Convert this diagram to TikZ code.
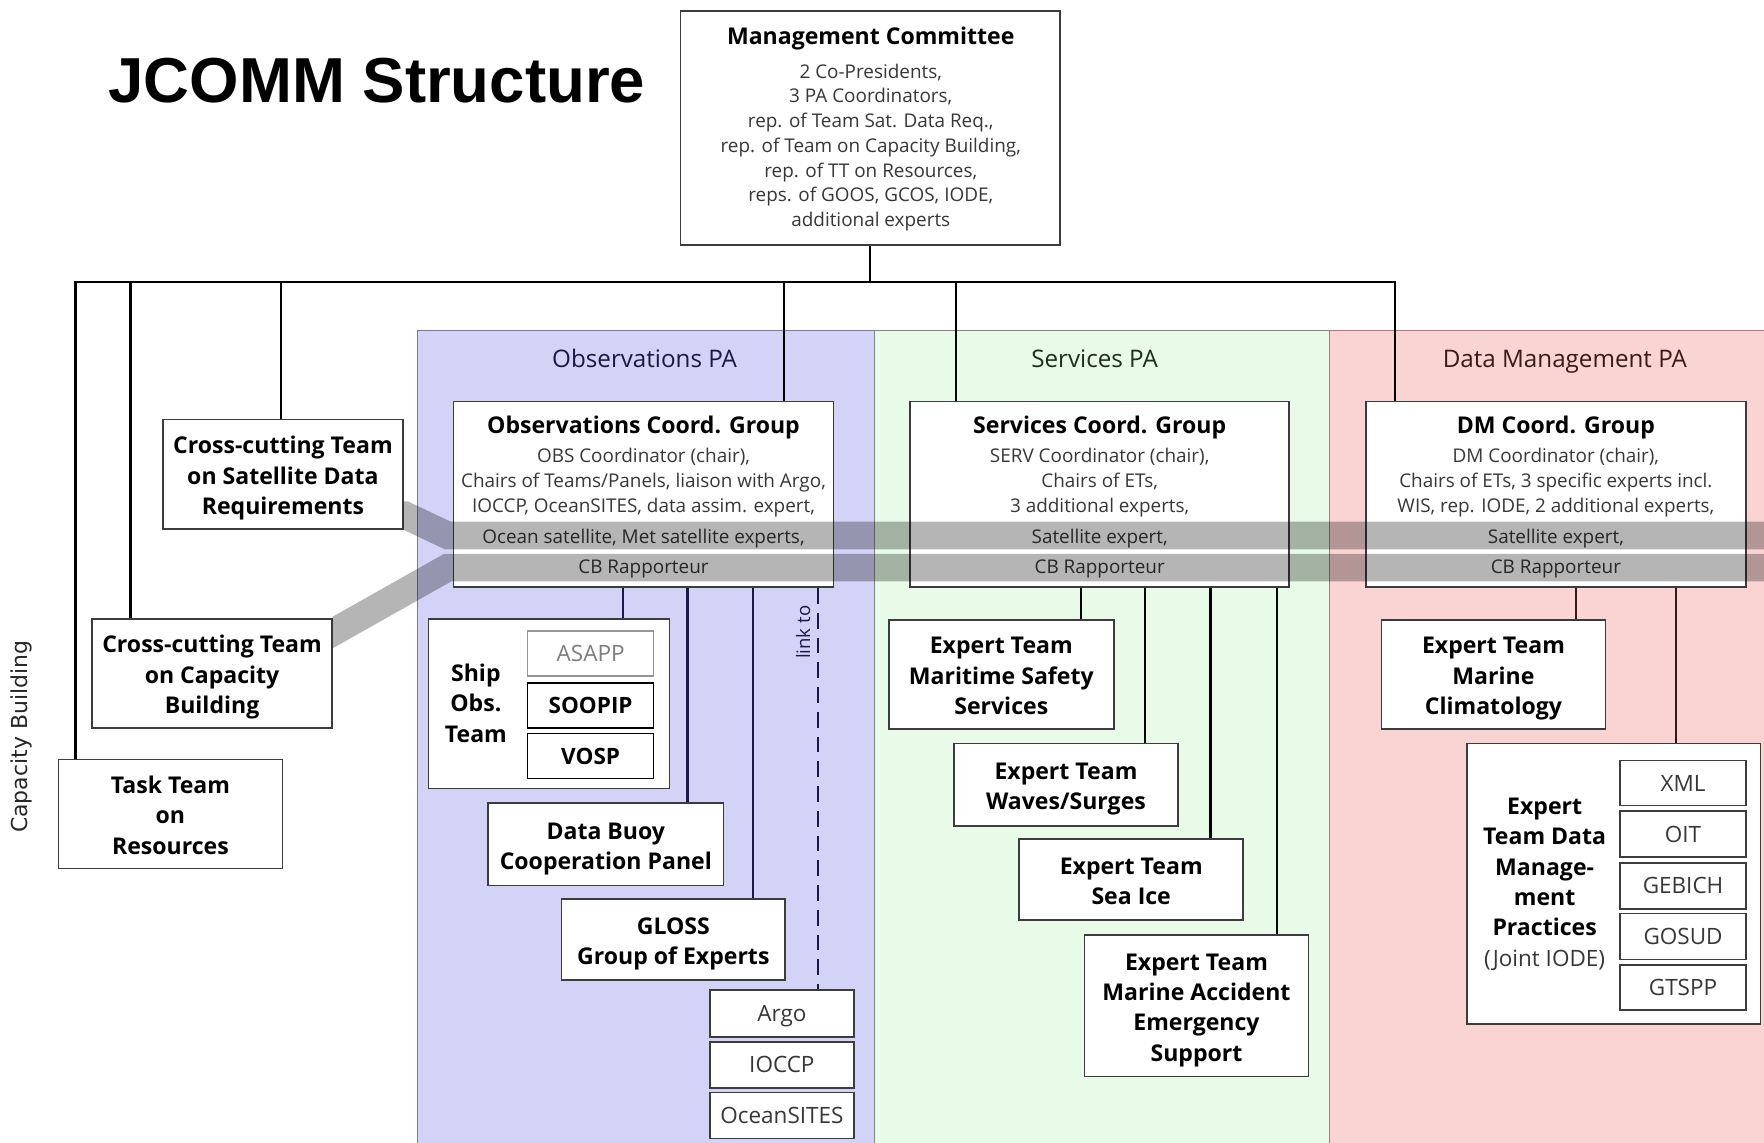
\documentclass[tikz,border=0pt]{standalone}
\usepackage{fontspec}
\setmainfont{Open Sans}
\newfontfamily\titlefont{Liberation Sans}
\newfontfamily\sidefont{DejaVu Sans}
\definecolor{obsbg}{RGB}{211,211,248}
\definecolor{servbg}{RGB}{232,251,232}
\definecolor{dmbg}{RGB}{250,212,211}
\definecolor{obsedge}{RGB}{120,120,165}
\definecolor{servedge}{RGB}{120,140,120}
\definecolor{dmedge}{RGB}{170,120,120}
\definecolor{boxline}{RGB}{60,60,60}
\definecolor{bodytext}{RGB}{55,55,55}
\definecolor{navy}{RGB}{25,25,75}
\definecolor{obslabel}{RGB}{25,25,70}
\definecolor{servlabel}{RGB}{30,45,30}
\definecolor{dmlabel}{RGB}{60,25,25}
\definecolor{dmline}{RGB}{55,25,25}
\definecolor{lighttext}{RGB}{125,125,125}
\definecolor{lightedge}{RGB}{150,150,150}
\newcommand{\fteam}{\fontsize{20.5}{27}\selectfont\bfseries}
\newcommand{\fbody}{\fontsize{16.8}{22}\selectfont}
\newcommand{\fsub}{\fontsize{20}{24}\selectfont}
\newcommand{\fpa}{\fontsize{21.5}{26}\selectfont}
\newcommand{\fstrut}{\rule{0pt}{23.6pt}}
\newcommand{\lstrut}{\rule[-6pt]{0pt}{6pt}}
\begin{document}
\begin{tikzpicture}[x=1pt,y=-1pt,
  box/.style={draw=boxline, line width=1.4pt, fill=white, inner sep=0pt, align=center},
  sz/.style 2 args={minimum width=#1pt, minimum height=#2pt},
  teambox/.style={box, font=\fteam},
  subbox/.style={box, font=\fsub, text=bodytext, text height=14.3pt, text depth=0pt},
  boldtxt/.style={font=\fteam, align=center, inner sep=0pt},
  bodytxt/.style={font=\fbody, text=bodytext, align=center, inner sep=0pt},
  conn/.style={line width=2pt, draw=black},
  obsconn/.style={line width=2pt, draw=navy},
  dmconn/.style={line width=2pt, draw=dmline},
  band/.style={line width=24.5pt, draw=black, opacity=0.29, line join=miter},
  palabel/.style={font=\fpa, inner sep=0pt, anchor=base}]
\useasboundingbox (0,0) rectangle (1568,1016);
\fill[white] (0,0) rectangle (1568,1016);

% panels
\fill[obsbg] (371,294) rectangle (777,1016);
\fill[servbg] (777,294) rectangle (1182,1016);
\fill[dmbg] (1182,294) rectangle (1568,1016);
\draw[obsedge, line width=1pt] (371,1016) -- (371,294) -- (777,294);
\draw[servedge, line width=1pt] (777,1016) -- (777,294) -- (1182,294);
\draw[dmedge, line width=1pt] (1182,1016) -- (1182,294) -- (1568,294);
\node[palabel, text=obslabel] (obspa) at (573,327) {Observations PA};
\node[palabel, text=servlabel] (servpa) at (973,327) {Services PA};
\node[palabel, text=dmlabel] (dmpa) at (1391,327) {Data Management PA};

% title
\node[font=\titlefont\bfseries\fontsize{56.5}{60}\selectfont, inner sep=0pt] (title) at (335,72) {JCOMM Structure};
\node[rotate=90, font=\sidefont\fontsize{19.5}{22}\selectfont, text=black!85, inner sep=0pt] (cbside) at (19,655) {Capacity Building};

% management committee
\node[box, sz={337}{208}] (mc) at (773.5,114) {};
\node[boldtxt] (mct) at (774,34) {Management Committee};
\node[bodytxt] (mcb) at (774,131) {2 Co-Presidents,\\3 PA Coordinators,\\rep. of Team Sat. Data Req.,\\rep. of Team on Capacity Building,\\rep. of TT on Resources,\\reps. of GOOS, GCOS, IODE,\\additional experts};

% cross-cutting teams
\node[teambox, sz={213}{97}] (sat) at (251.5,421.5) {\fstrut Cross-cutting Team\\on Satellite Data\\Requirements\lstrut};
\node[teambox, sz={213}{97}] (cbt) at (188.5,598.5) {\fstrut Cross-cutting Team\\on Capacity\\Building\lstrut};
\node[teambox, sz={199}{97}] (task) at (151.5,723.5) {\fstrut Task Team\\on\\Resources\lstrut};

% coordination groups
\node[box, sz={338}{165}] (obsg) at (572,439.5) {};
\node[box, sz={337}{165}] (servg) at (977.5,439.5) {};
\node[box, sz={338}{165}] (dmg) at (1383,439.5) {};

% observations children
\node[box, sz={214}{151}] (ship) at (488,625.5) {};
\node[boldtxt] (shipt) at (423,625) {Ship\\Obs.\\Team};
\node[subbox, sz={112}{40}, draw=lightedge, text=lighttext] (asapp) at (525,581) {ASAPP};
\node[subbox, sz={112}{40}, font=\fsub\bfseries, text=black, draw=black] (soopip) at (525,627) {SOOPIP};
\node[subbox, sz={112}{40}, font=\fsub\bfseries, text=black, draw=black] (vosp) at (525,672) {VOSP};
\node[teambox, sz={209}{73}] (dbcp) at (538.5,750.5) {\fstrut Data Buoy\\Cooperation Panel\lstrut};
\node[teambox, sz={199}{72}] (gloss) at (598.5,835) {\fstrut GLOSS\\Group of Experts\lstrut};
\node[subbox, sz={128}{42}] (argo) at (695,901) {Argo};
\node[subbox, sz={128}{41}] (ioccp) at (695,946.5) {IOCCP};
\node[subbox, sz={128}{41}] (osites) at (695,991.5) {OceanSITES};
\node[rotate=90, font=\fontsize{16.5}{20}\selectfont, text=navy, inner sep=0pt] (linkto) at (714,562) {link to};

% services children
\node[teambox, sz={200}{97}] (etmss) at (890,599.5) {\fstrut Expert Team\\Maritime Safety\\Services\lstrut};
\node[teambox, sz={199}{73}] (etws) at (947.5,697.5) {\fstrut Expert Team\\Waves/Surges\lstrut};
\node[teambox, sz={199}{72}] (etsi) at (1005.5,782) {\fstrut Expert Team\\Sea Ice\lstrut};
\node[teambox, sz={199}{126}] (etmaes) at (1063.5,894) {\fstrut Expert Team\\Marine Accident\\Emergency\\Support\lstrut};

% data management children
\node[teambox, sz={199}{97}] (etmc) at (1327.5,599.5) {\fstrut Expert Team\\Marine\\Climatology\lstrut};
\node[box, sz={261}{249}] (etdmp) at (1434.5,785.5) {};
\node[boldtxt] (etdmpt) at (1373,786) {Expert\\Team Data\\Manage-\\ment\\Practices\\{\mdseries\fsub\color{bodytext}(Joint IODE)}};
\node[subbox, sz={112}{40}] (xml) at (1496,696) {XML};
\node[subbox, sz={112}{41}] (oit) at (1496,741.5) {OIT};
\node[subbox, sz={112}{41}] (gebich) at (1496,787.5) {GEBICH};
\node[subbox, sz={112}{41}] (gosud) at (1496,832.5) {GOSUD};
\node[subbox, sz={112}{40}] (gtspp) at (1496,878) {GTSPP};

% connector positions
\coordinate (bus) at (0,251);
\coordinate (xtask) at (67,0);
\coordinate (xcb) at (116,0);
\coordinate (xsat) at (250,0);
\coordinate (xobs) at (697,0);
\coordinate (xserv) at (850,0);
\coordinate (xdm) at (1240,0);
\coordinate (xship) at (554,0);
\coordinate (xdbcp) at (611,0);
\coordinate (xgloss) at (669,0);
\coordinate (xlink) at (727,0);
\coordinate (xetmss) at (961,0);
\coordinate (xetws) at (1018,0);
\coordinate (xetsi) at (1076,0);
\coordinate (xetmaes) at (1135,0);
\coordinate (xetmc) at (1401,0);
\coordinate (xetdmp) at (1490,0);

% top bus
\draw[conn] (mc.south) -- (mc.south |- bus);
\draw[conn] (task.north -| xtask) -- (bus -| xtask) -- (bus -| xdm) -- (dmg.north -| xdm);
\draw[conn] (bus -| xcb) -- (cbt.north -| xcb);
\draw[conn] (bus -| xsat) -- (sat.north -| xsat);
\draw[conn] (bus -| xobs) -- (obsg.north -| xobs);
\draw[conn] (bus -| xserv) -- (servg.north -| xserv);

% group connectors
\draw[obsconn] (obsg.south -| xship) -- (ship.north -| xship);
\draw[obsconn] (obsg.south -| xdbcp) -- (dbcp.north -| xdbcp);
\draw[obsconn] (obsg.south -| xgloss) -- (gloss.north -| xgloss);
\draw[obsconn, dash pattern=on 14pt off 8pt] (obsg.south -| xlink) -- (argo.north -| xlink);
\draw[conn] (servg.south -| xetmss) -- (etmss.north -| xetmss);
\draw[conn] (servg.south -| xetws) -- (etws.north -| xetws);
\draw[conn] (servg.south -| xetsi) -- (etsi.north -| xetsi);
\draw[conn] (servg.south -| xetmaes) -- (etmaes.north -| xetmaes);
\draw[dmconn] (dmg.south -| xetmc) -- (etmc.north -| xetmc);
\draw[dmconn] (dmg.south -| xetdmp) -- (etdmp.north -| xetdmp);

% coordination group texts
\node[boldtxt] (obst) at (572,380) {Observations Coord. Group};
\node[bodytxt] (obsb) at (572,429) {OBS Coordinator (chair),\\Chairs of Teams/Panels, liaison with Argo,\\IOCCP, OceanSITES, data assim. expert,};
\node[bodytxt] (obss) at (572,479) {Ocean satellite, Met satellite experts,};
\node[bodytxt] (obsc) at (572,506) {CB Rapporteur};
\node[boldtxt] (servt) at (977.5,380) {Services Coord. Group};
\node[bodytxt] (servb) at (977.5,429) {SERV Coordinator (chair),\\Chairs of ETs,\\3 additional experts,};
\node[bodytxt] (servs) at (977.5,479) {Satellite expert,};
\node[bodytxt] (servc) at (977.5,506) {CB Rapporteur};
\node[boldtxt] (dmt) at (1383,380) {DM Coord. Group};
\node[bodytxt] (dmb) at (1383,429) {DM Coordinator (chair),\\Chairs of ETs, 3 specific experts incl.\\WIS, rep. IODE, 2 additional experts,};
\node[bodytxt] (dms) at (1383,479) {Satellite expert,};
\node[bodytxt] (dmc) at (1383,506) {CB Rapporteur};

% satellite and capacity building bands
\begin{scope}
\clip (358.7,0) rectangle (1568,1016);
\draw[band] (330,458) -- (360,458) -- (398,476) -- (1590,476);
\end{scope}
\begin{scope}
\clip (295.7,0) rectangle (1568,1016);
\draw[band] (250,588) -- (398,504.5) -- (1590,504.5);
\end{scope}
\end{tikzpicture}
\end{document}
